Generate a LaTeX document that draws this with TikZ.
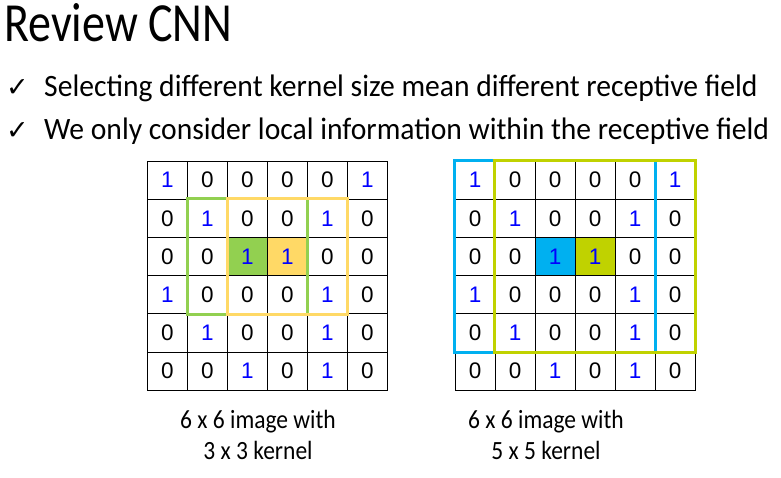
\documentclass[tikz,border=0pt]{standalone}
\usepackage{fontspec}
\setmainfont{Carlito}
\newfontfamily\cellfont{Liberation Sans}
\newfontfamily\symfont{DejaVu Sans}
\usepackage{graphicx}
\usetikzlibrary{backgrounds}
\definecolor{kgreen}{HTML}{92D050}
\definecolor{kyellow}{HTML}{FFD966}
\definecolor{kblue}{HTML}{00B0F0}
\definecolor{klime}{RGB}{192,210,0}
\newcommand{\tallbox}[2][1.2]{\scalebox{1}[#1]{#2}}

\begin{document}
\begin{tikzpicture}[x=1pt,y=-1pt,
    cell/.style={draw,line width=0.9pt,minimum width=40pt,minimum height=38.2pt,inner sep=0pt,font=\cellfont\fontsize{22.5}{22.5}\selectfont},
    d0/.style={text=black},
    d1/.style={text=blue},
    txt/.style={anchor=base west,inner sep=0pt},
    caption/.style={anchor=base,inner sep=0pt,font=\fontsize{23.5}{24}\selectfont},
    kbox/.style={line width=3pt},
]
    \useasboundingbox (0,0) rectangle (781,478);

    % heading and bullets
    \node[txt,font=\fontsize{46}{46}\selectfont] (title) at (4,41.7) {\tallbox{Review CNN}};
    \node[txt,font=\symfont\fontsize{27}{27}\selectfont] (tick1) at (6,97) {✓};
    \node[txt,font=\fontsize{29.6}{30}\selectfont] (item1) at (44,97) {\tallbox[1.05]{Selecting different kernel size mean different receptive field}};
    \node[txt,font=\symfont\fontsize{27}{27}\selectfont] (tick2) at (6,140) {✓};
    \node[txt,font=\fontsize{29.6}{30}\selectfont] (item2) at (44,140) {\tallbox[1.05]{We only consider local information within the receptive field}};

    % the two 6 x 6 images
    \foreach \vals [count=\r from 0] in {{1,0,0,0,0,1},{0,1,0,0,1,0},{0,0,1,1,0,0},{1,0,0,0,1,0},{0,1,0,0,1,0},{0,0,1,0,1,0}} {
        \foreach \v [count=\c from 0] in \vals {
            \node[cell,d\v] (L-\r-\c) at ({167.5+40*\c},{180.1+38.2*\r}) {\v};
            \node[cell,d\v] (R-\r-\c) at ({475+40*\c},{180.1+38.2*\r}) {\v};
        }
    }

    % centre cells
    \begin{scope}[on background layer]
        \fill[kgreen] (L-2-2.north west) rectangle (L-2-2.south east);
        \fill[kyellow] (L-2-3.north west) rectangle (L-2-3.south east);
        \fill[kblue] (R-2-2.north west) rectangle (R-2-2.south east);
        \fill[klime] (R-2-3.north west) rectangle (R-2-3.south east);
    \end{scope}

    % kernels
    \draw[kbox,kgreen] (L-1-1.north west) rectangle (L-3-3.south east);
    \draw[kbox,kyellow] (L-1-2.north west) rectangle (L-3-4.south east);
    \draw[kbox,kblue,line width=3.5pt] (R-0-0.north west) rectangle (R-4-4.south east);
    \draw[kbox,klime,line width=3.5pt] (R-0-1.north west) rectangle (R-4-5.south east);

    % captions
    \node[caption] (capL1) at (258,428) {\tallbox[1.12]{6 x 6 image with}};
    \node[caption] (capL2) at (258,459.3) {\tallbox[1.12]{3 x 3 kernel}};
    \node[caption] (capR1) at (546,428) {\tallbox[1.12]{6 x 6 image with}};
    \node[caption] (capR2) at (546,459.3) {\tallbox[1.12]{5 x 5 kernel}};
\end{tikzpicture}
\end{document}
